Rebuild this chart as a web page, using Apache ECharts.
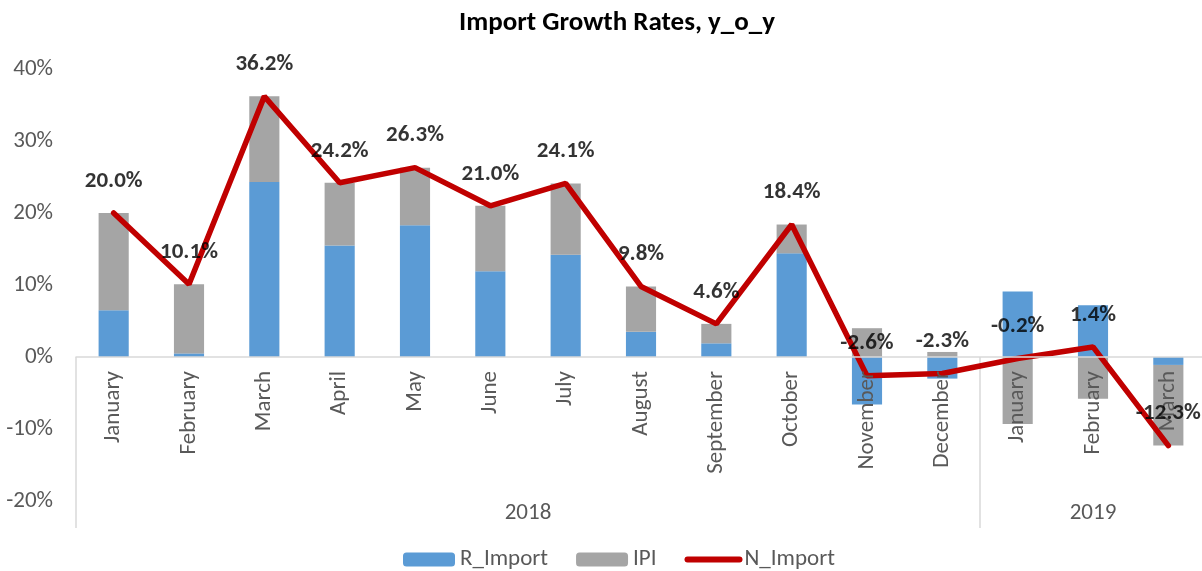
<!DOCTYPE html>
<html>
<head>
<meta charset="utf-8">
<title>Import Growth Rates</title>
<script src="https://cdn.jsdelivr.net/npm/echarts@6/dist/echarts.min.js"></script>
<style>
  html, body { margin: 0; padding: 0; background: #fff; }
  #chart { width: 1202px; height: 571px; }
</style>
</head>
<body>
<div id="chart"></div>
<script>
const months = ['January', 'February', 'March', 'April', 'May', 'June', 'July', 'August',
  'September', 'October', 'November', 'December', 'January', 'February', 'March'];
const years = ['2018', '2019'];
const yearSpans = [12, 3];
const rImport = [6.5, 0.5, 24.3, 15.5, 18.3, 11.9, 14.2, 3.5, 1.9, 14.4, -6.6, -3.0, 9.1, 7.2, -1.1];
const ipi = [13.5, 9.6, 11.9, 8.7, 8.0, 9.1, 9.9, 6.3, 2.7, 4.0, 4.0, 0.7, -9.3, -5.8, -11.2];
const nImport = [20.0, 10.1, 36.2, 24.2, 26.3, 21.0, 24.1, 9.8, 4.6, 18.4, -2.6, -2.3, -0.2, 1.4, -12.3];

const font = 'Carlito, Lato, sans-serif';
const axisGray = '#595959';
const lineGray = '#D9D9D9';
const gridBottom = 70;

// year group boundaries and centres on a 0..n value scale
const yearEdges = [0];
const yearCentres = [];
yearSpans.forEach((s, i) => {
  yearCentres.push(yearEdges[i] + s / 2);
  yearEdges.push(yearEdges[i] + s);
});

const chart = echarts.init(document.getElementById('chart'));

chart.setOption({
  animation: false,
  textStyle: { fontFamily: font },
  title: {
    text: 'Import Growth Rates, y_o_y',
    left: 454,
    top: 5,
    textStyle: { fontFamily: font, fontSize: 27, fontWeight: 'bold', color: '#000' },
  },
  legend: {
    bottom: -5,
    left: 398,
    itemWidth: 52,
    itemHeight: 14,
    itemGap: 28,
    textStyle: { fontFamily: font, fontSize: 23, color: axisGray },
    data: [
      'R_Import',
      'IPI',
      { name: 'N_Import', itemStyle: { opacity: 0 }, lineStyle: { width: 6, cap: 'round' } },
    ],
  },
  grid: {
    left: 76,
    right: -4,
    top: 69,
    bottom: gridBottom,
    containLabel: false,
    outerBoundsMode: 'none',
  },
  xAxis: [
    {
      type: 'category',
      data: months,
      position: 'bottom',
      offset: 0,
      z: 10,
      axisLine: { onZero: false, lineStyle: { color: lineGray, width: 1.5 } },
      axisTick: { show: false },
      axisLabel: {
        rotate: 90,
        margin: 14,
        fontFamily: font,
        fontSize: 23,
        color: axisGray,
      },
      splitLine: { show: false },
    },
    {
      type: 'value',
      min: 0,
      max: months.length,
      position: 'bottom',
      offset: 27,
      axisLine: { show: false, onZero: false },
      splitLine: { show: false },
      axisTick: {
        show: true,
        inside: true,
        length: 171,
        customValues: yearEdges,
        lineStyle: { color: lineGray, width: 1.5 },
      },
      axisLabel: {
        inside: true,
        margin: 3,
        customValues: yearCentres,
        fontFamily: font,
        fontSize: 23,
        color: axisGray,
        formatter: (v) => years[yearCentres.indexOf(v)] || '',
      },
    },
  ],
  yAxis: {
    type: 'value',
    min: -20,
    max: 40,
    interval: 10,
    axisLine: { show: false },
    axisTick: { show: false },
    splitLine: { show: false },
    axisLabel: {
      margin: 23,
      fontFamily: font,
      fontSize: 23,
      color: axisGray,
      formatter: '{value}%',
    },
  },
  series: [
    {
      name: 'R_Import',
      type: 'bar',
      stack: 'total',
      barWidth: '40%',
      data: rImport,
      itemStyle: { color: '#5B9BD5' },
    },
    {
      name: 'IPI',
      type: 'bar',
      stack: 'total',
      barWidth: '40%',
      data: ipi,
      itemStyle: { color: '#A5A5A5' },
    },
    {
      name: 'N_Import',
      type: 'line',
      data: nImport,
      symbol: 'none',
      showSymbol: false,
      lineStyle: { color: '#C00000', width: 5.5, cap: 'round' },
      itemStyle: { color: '#C00000' },
      z: 5,
    },
    {
      // value labels for the line
      name: 'N_Import_labels',
      type: 'scatter',
      data: nImport,
      symbolSize: 1,
      itemStyle: { color: 'rgba(0,0,0,0)' },
      z: 12,
      label: {
        show: true,
        position: 'top',
        distance: 20,
        fontFamily: font,
        fontSize: 23,
        fontWeight: 'bold',
        color: '#000',
        formatter: (p) => p.value.toFixed(1) + '%',
      },
    },
  ],
});

// put the month axis on the zero line
const zeroY = chart.convertToPixel({ yAxisIndex: 0 }, 0);
const bottomY = chart.getHeight() - gridBottom;
chart.setOption({ xAxis: [{ offset: zeroY - bottomY }, {}] });
</script>
</body>
</html>
